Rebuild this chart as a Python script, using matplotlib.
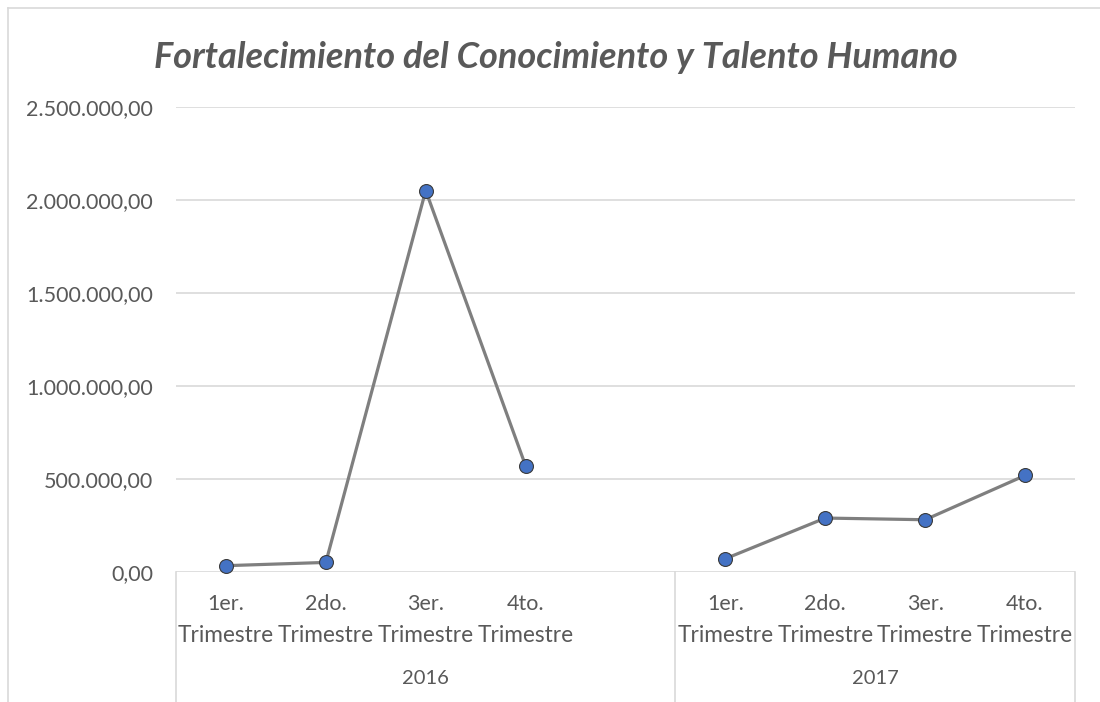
import matplotlib
matplotlib.use("Agg")
import matplotlib.pyplot as plt
from matplotlib.lines import Line2D
import numpy as np

# ---- data ----
years = ["2016", "2017"]
quarter_top = ["1er.", "2do.", "3er.", "4to."]
quarter_bottom = "Trimestre"
values_2016 = [34000, 51500, 2051000, 571000]
values_2017 = [71500, 290000, 281000, 519000]
yticks = [0, 500000, 1000000, 1500000, 2000000, 2500000]
title = "Fortalecimiento del Conocimiento y Talento Humano"

W, H = 1100, 702
fig = plt.figure(figsize=(W / 100, H / 100), dpi=100)
plt.rcParams['font.family'] = ['Lato', 'DejaVu Sans']

def fx(px):
    return px / W

def fy(py):
    return 1 - py / H

ax_l, ax_r, ax_t, ax_b = 176, 1075, 107, 572
ax = fig.add_axes([fx(ax_l), fy(ax_b), (ax_r - ax_l) / W, (ax_b - ax_t) / H])

# 9 category slots: 4 quarters 2016, 1 empty, 4 quarters 2017
n_slots = 9
yvals = list(values_2016) + [np.nan] + list(values_2017)
x = np.arange(n_slots)
ax.plot(x, yvals, color="#7f7f7f", lw=2.3, marker="o", markersize=10,
        markerfacecolor="#4472C4", markeredgecolor="#3a3a3a", markeredgewidth=0.8,
        zorder=3, clip_on=False)

ax.set_xlim(-0.5, n_slots - 0.5)
ax.set_ylim(0, 2500000)
ax.set_yticks(yticks)
ax.set_yticklabels([f"{v:,.2f}".replace(",", "X").replace(".", ",").replace("X", ".") for v in yticks],
                   fontsize=15.5, color="#595959")
ax.tick_params(axis="y", length=0, pad=16.5)
ax.set_xticks([])
ax.grid(axis="y", color="#d9d9d9", lw=1.2)
ax.set_axisbelow(True)
for s in ax.spines.values():
    s.set_visible(False)
ax.set_facecolor("none")

def ay(py):
    return -(py - ax_b) / (ax_b - ax_t)

# category labels
trans = ax.get_xaxis_transform()
cat_pos = list(range(0, 4)) + list(range(5, 9))
for i, p in enumerate(cat_pos):
    ax.text(p, ay(604), quarter_top[i % 4], transform=trans,
            ha="center", va="center", fontsize=15.5, color="#595959")
    ax.text(p, ay(636), quarter_bottom, transform=trans,
            ha="center", va="center", fontsize=16.3, color="#595959")
ax.text(2.0, ay(679), years[0], transform=trans,
        ha="center", va="center", fontsize=14.5, color="#595959")
ax.text(6.5, ay(679), years[1], transform=trans,
        ha="center", va="center", fontsize=14.5, color="#595959")

# separator lines (group boundaries)
for bx in (-0.5, 4.5, 8.5):
    ax.add_line(Line2D([bx, bx], [0, ay(H)], transform=trans,
                       color="#d9d9d9", lw=1.2, clip_on=False))

# outer chart border (top and left visible)
fig.add_artist(Line2D([fx(8), 1], [fy(8), fy(8)], color="#d9d9d9", lw=1.2))
fig.add_artist(Line2D([fx(8), fx(8)], [fy(8), 0], color="#d9d9d9", lw=1.2))

fig.text(fx(556), fy(58), title, ha="center", va="center", fontsize=26,
         style="italic", weight="bold", color="#595959")

fig.savefig("out.png", dpi=100)
